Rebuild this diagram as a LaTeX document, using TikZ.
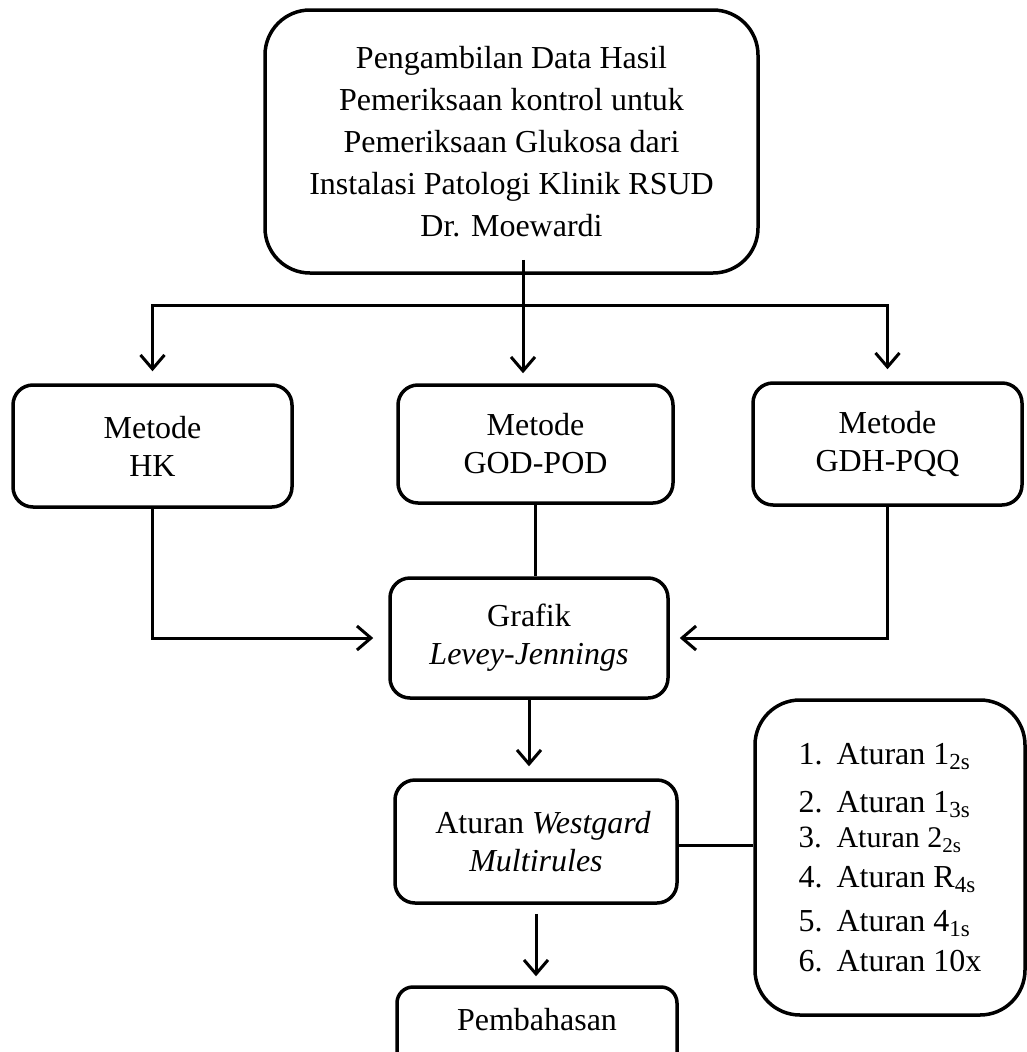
\documentclass[tikz,border=0pt]{standalone}
\usepackage{fontspec}
\setmainfont{Liberation Serif}
\usepackage{tikz}
\usetikzlibrary{arrows, arrows.meta}
\usetikzlibrary{calc}
\tikzset{
    flowbox/.style={draw, line width=3.5pt, rounded corners=20pt, align=center,
        inner sep=0pt, font=\fontsize{32}{38}\selectfont},
    bigbox/.style={flowbox, rounded corners=45pt, font=\fontsize{32}{42}\selectfont},
    conn/.style={line width=3pt},
    arrow/.style={conn, -{Straight Barb[length=14pt,width=24pt]}}
}
\newcommand{\rulesub}[2][23]{\raisebox{-5pt}{\fontsize{#1}{#1}\selectfont #2}}

\begin{document}
\begin{tikzpicture}[x=1pt, y=-1pt]
  \useasboundingbox (0,0) rectangle (1026,1052);

  \node (data)[bigbox, minimum width=493pt, minimum height=263pt] at (511.5,141.5)
      {Pengambilan Data Hasil\\Pemeriksaan kontrol untuk\\Pemeriksaan Glukosa dari\\Instalasi Patologi Klinik RSUD\\Dr. Moewardi};

  \node (hk)[flowbox, minimum width=279pt, minimum height=122pt] at (152.5,446) {Metode\\HK};
  \node (god)[flowbox, minimum width=275pt, minimum height=118pt] at (535.5,444) {Metode\\GOD-POD};
  \node (gdh)[flowbox, minimum width=269pt, minimum height=122pt] at (887.5,444) {Metode\\GDH-PQQ};

  \node (grafik)[flowbox, minimum width=278pt, minimum height=120pt] at (529,638) {Grafik\\\textit{Levey-Jennings}};
  \node (westgard)[flowbox, minimum width=282pt, minimum height=123pt] at (536,841.5)
      {\hspace*{14pt}Aturan \textit{Westgard}\\\textit{Multirules}};
  \node (bahas)[flowbox, rounded corners=16pt, minimum width=280pt, minimum height=90pt,
      text depth=26pt] at (537,1032) {Pembahasan};

  \node (rules)[bigbox, minimum width=270pt, minimum height=315pt, align=left,
      font=\fontsize{32}{40}\selectfont] at (890,857.5)
      {\makebox[38pt][l]{1.}Aturan 1\rulesub{2s}\\[8pt]
       \makebox[38pt][l]{2.}Aturan 1\rulesub{3s}\\[-5pt]
       \makebox[38pt][l]{\fontsize{31}{40}\selectfont 3.}{\fontsize{30}{40}\selectfont Aturan 2\rulesub[21]{2s}}\\
       \makebox[38pt][l]{4.}Aturan R\rulesub{4s}\\[4pt]
       \makebox[38pt][l]{5.}Aturan 4\rulesub{1s}\\
       \makebox[38pt][l]{6.}Aturan 10x};

  % split below the first box
  \coordinate (tee) at (523,305);
  \draw[conn] ([yshift=15pt]data.south -| tee) -- (tee);
  \draw[arrow] (tee) -- ([yshift=10pt]god.north -| tee);
  \draw[arrow] (tee) -| ([yshift=12pt]hk.north);
  \draw[arrow] (tee) -| ([yshift=12pt]gdh.north);

  % methods into the chart
  \draw[arrow] (hk.south) |- ([xshift=-15pt]grafik.west);
  \draw[conn] (god.south) -- (god.south |- grafik.north);
  \draw[arrow] (gdh.south) |- ([xshift=10pt]grafik.east);

  \draw[arrow] (grafik.south) -- ([yshift=12pt]grafik.south |- westgard.north);
  \draw[conn] ([yshift=-4pt]westgard.east) -- ([yshift=-4pt]westgard.east -| rules.west);
  \draw[arrow] ([yshift=-9pt]westgard.south) -- ([yshift=9pt]westgard.south |- bahas.north);
\end{tikzpicture}
\end{document}
